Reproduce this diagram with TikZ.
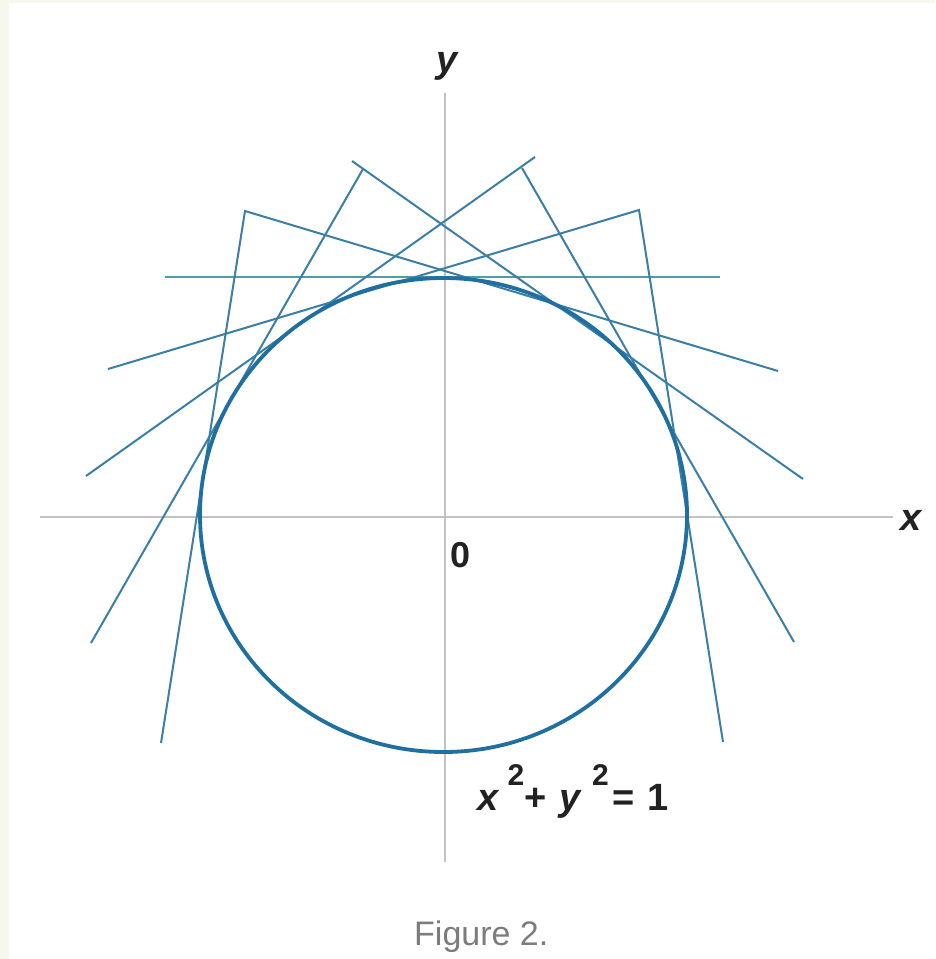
\documentclass[tikz,border=0pt]{standalone}
\usepackage{fontspec}
\setmainfont{Liberation Sans}
\definecolor{axisgray}{HTML}{C2C2C2}
\definecolor{circblue}{HTML}{1F70A0}
\definecolor{tanblue}{HTML}{3C7FA6}
\definecolor{tanteal}{HTML}{4E9EA6}
\definecolor{edgebeige}{HTML}{F6F8EE}
\definecolor{capgray}{HTML}{7C7C7C}
\definecolor{labdark}{HTML}{222222}
\newcommand{\supnum}[1]{\raisebox{25pt}{\fontsize{30}{32}\selectfont #1}}
\tikzset{
  axisline/.style={draw=axisgray, line width=1.6pt},
  tanline/.style={draw=tanblue, line width=2pt, line join=miter},
  circline/.style={draw=circblue, line width=3.8pt},
  axlabel/.style={font=\fontsize{38}{40}\selectfont\bfseries\itshape, text=labdark, inner sep=0pt},
}
\begin{document}
\begin{tikzpicture}[x=1pt,y=-1pt]
\useasboundingbox (0,0) rectangle (935,959);
\fill[white] (0,0) rectangle (935,959);
\fill[edgebeige] (0,0) rectangle (9,959);
\fill[edgebeige] (0,0) rectangle (935,3);
% axes
\coordinate (xl) at (40,517);
\coordinate (xr) at (893,517);
\coordinate (yt) at (445,93);
\coordinate (yb) at (445,862);
\draw[axisline] (xl) -- (xr);
\draw[axisline] (yt) -- (yb);
% tangent lines
\draw[draw=tanteal, line width=2pt] (165,277) -- (720,277);
\draw[tanline] (108,369) -- (639,210) -- (723,742);
\draw[tanline] (778,371) -- (245,211) -- (161,743);
\draw[tanline] (352,161) -- (803,479);
\draw[tanline] (363,169) -- (91,643);
\draw[tanline] (535,157) -- (86,476);
\draw[tanline] (522,168) -- (794,642);
% circle
\draw[circline] (443.5,515) ellipse [x radius=243.5, y radius=237];
% labels
\node[axlabel] (ylab) at (447,66) {y};
\node[axlabel] (xlab) at (911,520) {x};
\node[font=\fontsize{36}{40}\selectfont\bfseries, text=labdark, inner sep=0pt] (zero) at (461,555) {0};
\node[font=\fontsize{38}{40}\selectfont\bfseries, text=labdark, inner sep=0pt, anchor=base west] (eq) at (477,810)
  {\textit{x}\hspace{8pt}\supnum{2}+\hspace{13pt}\textit{y}\hspace{10pt}\supnum{2}\hspace{4pt}=\hspace{12pt}1};
\node[font=\fontsize{34}{40}\selectfont, text=capgray, inner sep=0pt, anchor=base west] (cap) at (414,945) {Figure 2.};
\end{tikzpicture}
\end{document}
